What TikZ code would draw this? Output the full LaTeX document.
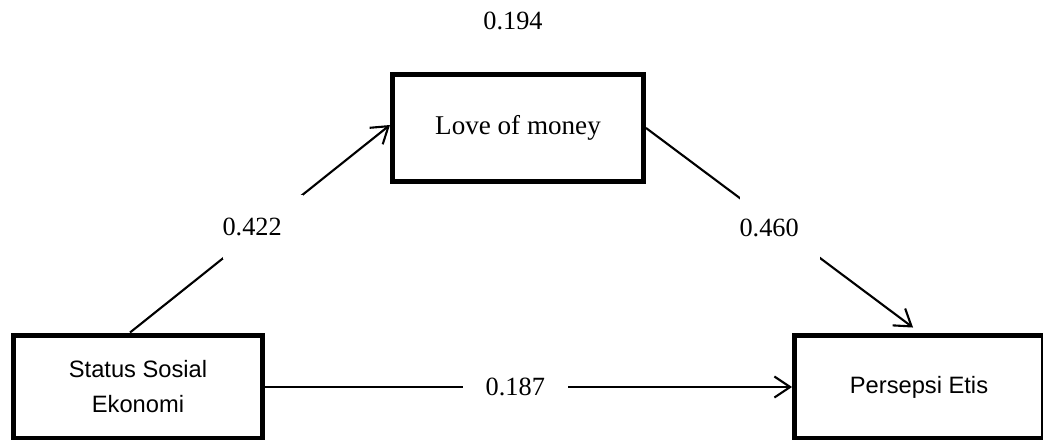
\documentclass[tikz,border=0pt]{standalone}
\usepackage{fontspec}
\setmainfont{Liberation Serif}
\newfontfamily\arialfont{Liberation Sans}
\usetikzlibrary{arrows.meta,calc}

\begin{document}
\begin{tikzpicture}[x=0.38pt, y=-0.38pt,
    varbox/.style={draw, line width=1.9pt, minimum width=94.6pt, minimum height=39.5pt, inner sep=0pt, align=center},
    path/.style={line width=0.8pt, -{Straight Barb[length=6pt, width=8pt, line width=0.8pt]}},
    coef/.style={fill=white, text width=30.4pt, align=left, inner xsep=0pt, inner ysep=8.7pt, font=\fontsize{10}{12}\selectfont},
    coefh/.style={fill=white, inner xsep=8.7pt, inner ysep=3pt, font=\fontsize{10}{12}\selectfont}]
      \useasboundingbox (0,0) rectangle (1043,439);
      % Draw the boxes
      \node[varbox, minimum width=95.4pt, minimum height=40.7pt, font=\fontsize{10.3}{12}\selectfont] (lom) at (518,128) {\raisebox{2pt}{Love of money}};
      \node[varbox, font=\arialfont\fontsize{9}{13.3}\selectfont] (ses) at (138,387) {Status Sosial\\Ekonomi};
      \node[varbox, font=\arialfont\fontsize{9}{13.3}\selectfont] (pe) at (919,387) {Persepsi Etis};
      % Draw the paths
      \draw[path] ($(ses.north)+(-8,0)$) -- node[coef, pos=0.51] {0.422} ($(lom.west)+(0,-3)$);
      \draw[path] (lom.east) -- node[coef, pos=0.5] {0.460} ($(pe.north west)+(121,-5)$);
      \draw[path] (ses.east) -- node[coefh, pos=0.475] {0.187} (pe.west);
      % Label R square
      \node[font=\fontsize{10}{12}\selectfont] (rsq) at (513,21) {0.194};
    \end{tikzpicture}
\end{document}
